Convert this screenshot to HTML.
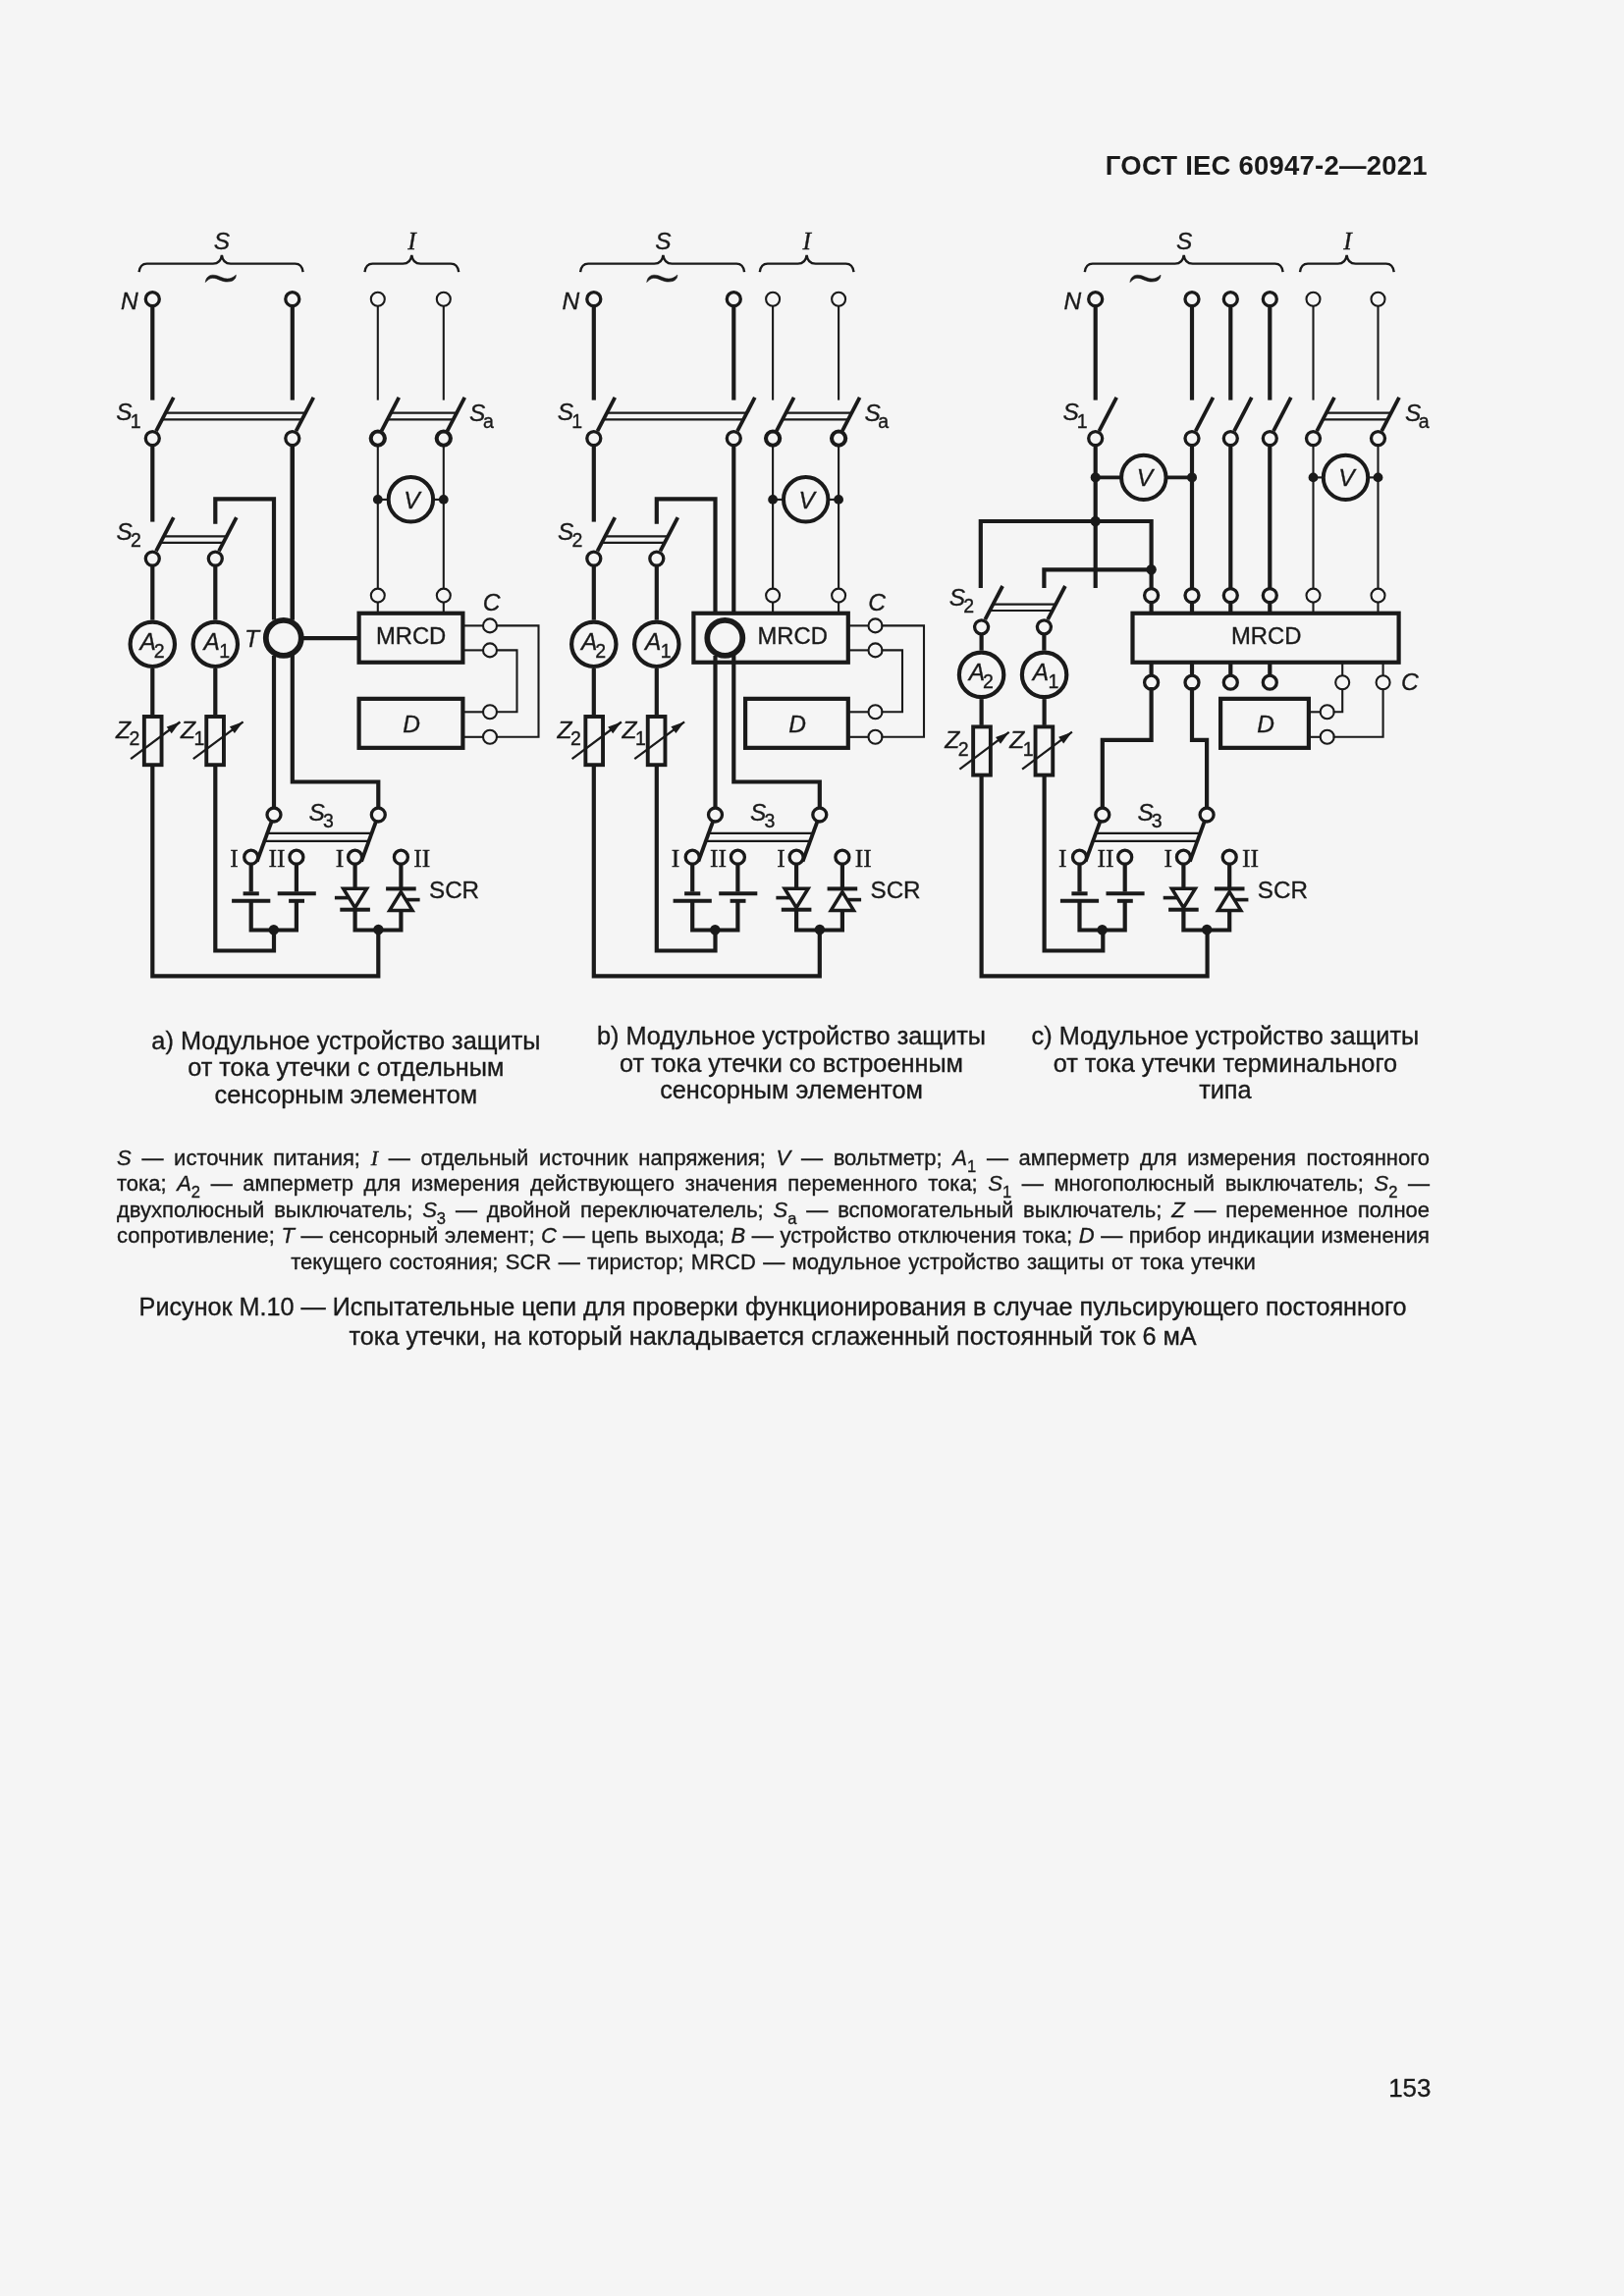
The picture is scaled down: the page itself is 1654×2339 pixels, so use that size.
<!DOCTYPE html>
<html><head><meta charset="utf-8"><style>
html,body{margin:0;padding:0;background:#f5f5f5;}
body{width:1654px;height:2339px;position:relative;overflow:hidden;font-family:"Liberation Sans",sans-serif;color:#1a1a1a;}
svg{position:absolute;left:0;top:0;will-change:transform;}
.t{position:absolute;white-space:nowrap;line-height:1;}
.lg{-webkit-text-stroke:0.35px #1a1a1a;will-change:transform;position:absolute;left:118.5px;width:1337px;font-size:22.0px;line-height:26.6px;text-align:justify;text-align-last:justify;white-space:normal;}
.lg i{font-style:italic;}
.lg i.sr{font-family:"Liberation Serif",serif;}
.lg sub{font-size:16.5px;vertical-align:-6.5px;line-height:0;}
</style></head><body>
<svg width="1654" height="2339" viewBox="0 0 1654 2339" stroke="#1a1a1a" fill="none">
<text x="1453.8" y="177.6" font-family="Liberation Sans" font-weight="bold" font-size="27.5" letter-spacing="0.22" text-anchor="end" fill="#1a1a1a" stroke="none">ГОСТ IEC 60947-2—2021</text>
<path d="M141.6,277.1 Q142.6,268.6 149.6,268.6 L216.9,268.6 Q224.9,268.6 225.9,259.9 Q226.9,268.6 234.9,268.6 L300.6,268.6 Q307.6,268.6 308.6,277.1" stroke-width="2.4" fill="none" />
<path d="M371.5,277.1 Q372.5,268.6 379.5,268.6 L410.3,268.6 Q418.3,268.6 419.3,259.9 Q420.3,268.6 428.3,268.6 L459.2,268.6 Q466.2,268.6 467.2,277.1" stroke-width="2.4" fill="none" />
<text x="226" y="254.4" font-family="Liberation Sans" font-size="24.5" text-anchor="middle" font-style="italic" fill="#1a1a1a" stroke="#1a1a1a" stroke-width="0.35">S</text>
<text x="419.5" y="253.6" font-family="Liberation Serif" font-size="25.5" text-anchor="middle" font-style="italic" fill="#1a1a1a" stroke="#1a1a1a" stroke-width="0.35">I</text>
<path transform="translate(0.1,0)" d="M209.2,287.5 C209.6,283 212.5,280.3 216.5,280.2 C220,280.1 223,281.5 226,282.8 C229.5,284.2 233,284.5 236,283 C238,282 239.5,280.8 240.2,280.0 C240.2,282.5 239.5,284 237.5,285.5 C235.5,286.8 232.5,287.1 229.5,286.9 C226.5,286.6 223.5,285.1 220.5,283.9 C217.5,282.9 214.5,283.1 212.5,284.6 C211,285.6 210,286.5 209.2,287.5 Z" fill="#1a1a1a" stroke="#1a1a1a" stroke-width="0.6"/>
<text x="123" y="314.7" font-family="Liberation Sans" font-size="24.5" text-anchor="start" font-style="italic" fill="#1a1a1a" stroke="#1a1a1a" stroke-width="0.35">N</text>
<circle cx="155.3" cy="304.7" r="7" stroke-width="3.3" fill="#f5f5f5"/>
<circle cx="297.8" cy="304.7" r="7" stroke-width="3.3" fill="#f5f5f5"/>
<circle cx="384.8" cy="304.7" r="7" stroke-width="2.1" fill="#f5f5f5"/>
<circle cx="451.8" cy="304.7" r="7" stroke-width="2.1" fill="#f5f5f5"/>
<line x1="155.3" y1="311.5" x2="155.3" y2="407.6" stroke-width="4.2" stroke-linecap="butt"/>
<line x1="297.8" y1="311.5" x2="297.8" y2="407.6" stroke-width="4.2" stroke-linecap="butt"/>
<line x1="384.8" y1="311.7" x2="384.8" y2="407.6" stroke-width="2.1" stroke-linecap="butt"/>
<line x1="451.8" y1="311.7" x2="451.8" y2="407.6" stroke-width="2.1" stroke-linecap="butt"/>
<line x1="159" y1="439.2" x2="176.8" y2="404.9" stroke-width="3.8" stroke-linecap="butt"/>
<line x1="301.5" y1="439.2" x2="319.3" y2="404.9" stroke-width="3.8" stroke-linecap="butt"/>
<line x1="168.65" y1="420.6" x2="311.15" y2="420.6" stroke-width="2.2" stroke-linecap="butt"/>
<line x1="165.2" y1="427.3" x2="307.7" y2="427.3" stroke-width="2.2" stroke-linecap="butt"/>
<text x="118.2" y="427.9" font-family="Liberation Sans" font-size="24.5" fill="#1a1a1a" stroke="#1a1a1a" stroke-width="0.35"><tspan font-style="italic">S</tspan><tspan font-size="19.5" dx="-1.9" dy="7.7">1</tspan></text>
<circle cx="155.3" cy="446.6" r="7" stroke-width="3.3" fill="#f5f5f5"/>
<circle cx="297.8" cy="446.6" r="7" stroke-width="3.3" fill="#f5f5f5"/>
<line x1="388.5" y1="439.2" x2="406.3" y2="404.9" stroke-width="3.8" stroke-linecap="butt"/>
<line x1="455.5" y1="439.2" x2="473.3" y2="404.9" stroke-width="3.8" stroke-linecap="butt"/>
<line x1="398.15" y1="420.6" x2="465.15" y2="420.6" stroke-width="2.2" stroke-linecap="butt"/>
<line x1="394.7" y1="427.3" x2="461.7" y2="427.3" stroke-width="2.2" stroke-linecap="butt"/>
<text x="478.1" y="428.6" font-family="Liberation Sans" font-size="24.5" fill="#1a1a1a" stroke="#1a1a1a" stroke-width="0.35"><tspan font-style="italic">S</tspan><tspan font-size="19.5" dx="-2.5" dy="7.8">a</tspan></text>
<circle cx="384.8" cy="446.6" r="7.1" stroke-width="4.1" fill="#f5f5f5"/>
<circle cx="451.8" cy="446.6" r="7.1" stroke-width="4.1" fill="#f5f5f5"/>
<line x1="384.8" y1="453.5" x2="384.8" y2="599.6" stroke-width="2.1" stroke-linecap="butt"/>
<line x1="451.8" y1="453.5" x2="451.8" y2="599.6" stroke-width="2.1" stroke-linecap="butt"/>
<circle cx="418.4" cy="508.8" r="22.7" stroke-width="4" fill="none"/>
<line x1="384.8" y1="508.9" x2="396.8" y2="508.9" stroke-width="2.1" stroke-linecap="butt"/>
<line x1="439.8" y1="508.9" x2="451.8" y2="508.9" stroke-width="2.1" stroke-linecap="butt"/>
<circle cx="384.8" cy="508.9" r="4.9" fill="#1a1a1a" stroke="none"/>
<circle cx="451.8" cy="508.9" r="4.9" fill="#1a1a1a" stroke="none"/>
<text x="419.4" y="517.5" font-family="Liberation Sans" font-size="24.5" text-anchor="middle" font-style="italic" fill="#1a1a1a" stroke="#1a1a1a" stroke-width="0.35">V</text>
<circle cx="384.8" cy="606.6" r="7" stroke-width="2.1" fill="#f5f5f5"/>
<circle cx="451.8" cy="606.6" r="7" stroke-width="2.1" fill="#f5f5f5"/>
<line x1="384.8" y1="613.6" x2="384.8" y2="624" stroke-width="2.1" stroke-linecap="butt"/>
<line x1="451.8" y1="613.6" x2="451.8" y2="624" stroke-width="2.1" stroke-linecap="butt"/>
<line x1="155.3" y1="453.6" x2="155.3" y2="531.6" stroke-width="4.2" stroke-linecap="butt"/>
<line x1="159" y1="561.4" x2="176.8" y2="527.2" stroke-width="3.8" stroke-linecap="butt"/>
<line x1="223" y1="561.4" x2="240.8" y2="527.2" stroke-width="3.8" stroke-linecap="butt"/>
<line x1="166.8" y1="546.4" x2="230.8" y2="546.4" stroke-width="2.2" stroke-linecap="butt"/>
<line x1="163.5" y1="552.8" x2="227.5" y2="552.8" stroke-width="2.2" stroke-linecap="butt"/>
<text x="118.6" y="549.7" font-family="Liberation Sans" font-size="24.5" fill="#1a1a1a" stroke="#1a1a1a" stroke-width="0.35"><tspan font-style="italic">S</tspan><tspan font-size="19.5" dx="-1.9" dy="7.2">2</tspan></text>
<circle cx="155.3" cy="569.1" r="7" stroke-width="3.3" fill="#f5f5f5"/>
<circle cx="219.3" cy="569.1" r="7" stroke-width="3.3" fill="#f5f5f5"/>
<line x1="155.3" y1="576" x2="155.3" y2="631.6" stroke-width="4.2" stroke-linecap="butt"/>
<line x1="219.3" y1="576" x2="219.3" y2="631.6" stroke-width="4.2" stroke-linecap="butt"/>
<polyline points="219.3,531.6 219.3,508.3 279,508.3 279,629.4" stroke-width="4.2" fill="none" stroke-linejoin="miter" stroke-linecap="square"/>
<line x1="297.8" y1="453.6" x2="297.8" y2="631.5" stroke-width="4.2" stroke-linecap="butt"/>
<rect x="365.6" y="624.75" width="105.8" height="50" stroke-width="4.2" fill="none"/>
<text x="418.6" y="656.4" font-family="Liberation Sans" font-size="23.8" text-anchor="middle" fill="#1a1a1a" stroke="#1a1a1a" stroke-width="0.35">MRCD</text>
<circle cx="288.8" cy="649.9" r="18" stroke-width="5.8" fill="#f5f5f5"/>
<line x1="306.8" y1="650.1" x2="366" y2="650.1" stroke-width="4.2" stroke-linecap="butt"/>
<text x="249" y="658.7" font-family="Liberation Sans" font-size="24.5" text-anchor="start" font-style="italic" fill="#1a1a1a" stroke="#1a1a1a" stroke-width="0.35">T</text>
<line x1="279" y1="668" x2="279" y2="822.5" stroke-width="4.2" stroke-linecap="butt"/>
<polyline points="297.8,668 297.8,796.5 385.3,796.5 385.3,822.5" stroke-width="4.2" fill="none" stroke-linejoin="miter" stroke-linecap="square"/>
<line x1="297.8" y1="453.6" x2="297.8" y2="631.5" stroke-width="4.2" stroke-linecap="butt"/>
<rect x="365.6" y="711.85" width="105.8" height="50" stroke-width="4.2" fill="none"/>
<text x="419.1" y="745.6" font-family="Liberation Sans" font-size="24.5" text-anchor="middle" font-style="italic" fill="#1a1a1a" stroke="#1a1a1a" stroke-width="0.35">D</text>
<circle cx="499" cy="637.4" r="7" stroke-width="2.1" fill="#f5f5f5"/>
<line x1="472.5" y1="637.4" x2="492" y2="637.4" stroke-width="2.1" stroke-linecap="butt"/>
<circle cx="499" cy="662.4" r="7" stroke-width="2.1" fill="#f5f5f5"/>
<line x1="472.5" y1="662.4" x2="492" y2="662.4" stroke-width="2.1" stroke-linecap="butt"/>
<circle cx="499" cy="725.3" r="7" stroke-width="2.1" fill="#f5f5f5"/>
<line x1="472.5" y1="725.3" x2="492" y2="725.3" stroke-width="2.1" stroke-linecap="butt"/>
<circle cx="499" cy="750.8" r="7" stroke-width="2.1" fill="#f5f5f5"/>
<line x1="472.5" y1="750.8" x2="492" y2="750.8" stroke-width="2.1" stroke-linecap="butt"/>
<text x="491.8" y="622.2" font-family="Liberation Sans" font-size="24.5" text-anchor="start" font-style="italic" fill="#1a1a1a" stroke="#1a1a1a" stroke-width="0.35">C</text>
<polyline points="506,637.4 548.5,637.4 548.5,750.8 506,750.8" stroke-width="2.1" fill="none" stroke-linejoin="miter" stroke-linecap="square"/>
<polyline points="506,662.4 526.5,662.4 526.5,725.3 506,725.3" stroke-width="2.1" fill="none" stroke-linejoin="miter" stroke-linecap="square"/>
<circle cx="155.3" cy="656.3" r="22.7" stroke-width="4.2" fill="none"/>
<circle cx="219.3" cy="656.3" r="22.7" stroke-width="4.2" fill="none"/>
<text x="142.4" y="662.2" font-family="Liberation Sans" font-size="24.5" fill="#1a1a1a" stroke="#1a1a1a" stroke-width="0.35"><tspan font-style="italic">A</tspan><tspan font-size="19.5" dx="-2" dy="7.6">2</tspan></text>
<text x="207.4" y="662.2" font-family="Liberation Sans" font-size="24.5" fill="#1a1a1a" stroke="#1a1a1a" stroke-width="0.35"><tspan font-style="italic">A</tspan><tspan font-size="19.5" dx="-0.5" dy="7.6">1</tspan></text>
<rect x="146.85" y="730" width="17.7" height="49.2" stroke-width="3.9" fill="none"/>
<rect x="210.25" y="730" width="17.7" height="49.2" stroke-width="3.9" fill="none"/>
<line x1="133.1" y1="773.2" x2="183.4" y2="735.5" stroke-width="2.3" stroke-linecap="butt"/>
<path d="M183.4,735.5 L174.72,747.26 L169.68,740.54 Z" fill="#1a1a1a" stroke="none"/>
<line x1="196.8" y1="773.2" x2="247.6" y2="735.3" stroke-width="2.3" stroke-linecap="butt"/>
<path d="M247.6,735.3 L238.89,747.04 L233.87,740.31 Z" fill="#1a1a1a" stroke="none"/>
<text x="118" y="751.9" font-family="Liberation Sans" font-size="24.5" fill="#1a1a1a" stroke="#1a1a1a" stroke-width="0.35"><tspan font-style="italic">Z</tspan><tspan font-size="19.5" dx="-1.5" dy="7.4">2</tspan></text>
<text x="184" y="751.9" font-family="Liberation Sans" font-size="24.5" fill="#1a1a1a" stroke="#1a1a1a" stroke-width="0.35"><tspan font-style="italic">Z</tspan><tspan font-size="19.5" dx="-1.5" dy="7.4">1</tspan></text>
<line x1="155.3" y1="681" x2="155.3" y2="728.5" stroke-width="4.2" stroke-linecap="butt"/>
<line x1="219.3" y1="681" x2="219.3" y2="728.5" stroke-width="4.2" stroke-linecap="butt"/>
<polyline points="155.3,780.7 155.3,994.4 385.3,994.4 385.3,947" stroke-width="4.2" fill="none" stroke-linejoin="miter" stroke-linecap="square"/>
<polyline points="219.3,780.7 219.3,968.5 279,968.5 279,947.3" stroke-width="4.2" fill="none" stroke-linejoin="miter" stroke-linecap="square"/>
<circle cx="279" cy="830" r="7" stroke-width="3.3" fill="#f5f5f5"/>
<circle cx="385.3" cy="830" r="7" stroke-width="3.3" fill="#f5f5f5"/>
<line x1="276.4" y1="837.5" x2="261.8" y2="877.5" stroke-width="3.8" stroke-linecap="butt"/>
<line x1="382.7" y1="837.5" x2="368.1" y2="877.5" stroke-width="3.8" stroke-linecap="butt"/>
<line x1="272.3" y1="848.8" x2="378.6" y2="848.8" stroke-width="2.2" stroke-linecap="butt"/>
<line x1="269.3" y1="856.9" x2="375.6" y2="856.9" stroke-width="2.2" stroke-linecap="butt"/>
<text x="314.6" y="835.9" font-family="Liberation Sans" font-size="24.5" fill="#1a1a1a" stroke="#1a1a1a" stroke-width="0.35"><tspan font-style="italic">S</tspan><tspan font-size="19.5" dx="-1.9" dy="7.5">3</tspan></text>
<circle cx="255.7" cy="873.2" r="7" stroke-width="3.3" fill="#f5f5f5"/>
<circle cx="301.9" cy="873.2" r="7" stroke-width="3.3" fill="#f5f5f5"/>
<circle cx="361.6" cy="873.2" r="7" stroke-width="3.3" fill="#f5f5f5"/>
<circle cx="408.4" cy="873.2" r="7" stroke-width="3.3" fill="#f5f5f5"/>
<text x="234.3" y="882.6" font-family="Liberation Serif" font-size="25.5" text-anchor="start" fill="#1a1a1a" stroke="#1a1a1a" stroke-width="0.35">I</text>
<text x="273.6" y="882.6" font-family="Liberation Serif" font-size="25.5" text-anchor="start" fill="#1a1a1a" stroke="#1a1a1a" stroke-width="0.35">II</text>
<text x="341.8" y="882.6" font-family="Liberation Serif" font-size="25.5" text-anchor="start" fill="#1a1a1a" stroke="#1a1a1a" stroke-width="0.35">I</text>
<text x="421.2" y="882.6" font-family="Liberation Serif" font-size="25.5" text-anchor="start" fill="#1a1a1a" stroke="#1a1a1a" stroke-width="0.35">II</text>
<line x1="255.7" y1="880.5" x2="255.7" y2="908.5" stroke-width="4.2" stroke-linecap="butt"/>
<line x1="247.6" y1="910.3" x2="263.8" y2="910.3" stroke-width="4" stroke-linecap="butt"/>
<line x1="236.1" y1="917.8" x2="275.3" y2="917.8" stroke-width="4" stroke-linecap="butt"/>
<line x1="301.9" y1="880.5" x2="301.9" y2="908.5" stroke-width="4.2" stroke-linecap="butt"/>
<line x1="282.7" y1="910.3" x2="321.8" y2="910.3" stroke-width="4" stroke-linecap="butt"/>
<line x1="294.1" y1="917.8" x2="310" y2="917.8" stroke-width="4" stroke-linecap="butt"/>
<polyline points="255.7,919.5 255.7,947.5 301.9,947.5 301.9,919.5" stroke-width="4.2" fill="none" stroke-linejoin="miter" stroke-linecap="square"/>
<circle cx="278.8" cy="947.3" r="5.2" fill="#1a1a1a" stroke="none"/>
<line x1="361.6" y1="880.5" x2="361.6" y2="905.2" stroke-width="4.2" stroke-linecap="butt"/>
<path d="M349.6,905.2 L373.6,905.2 L361.6,924.6 Z" stroke-width="3.5" fill="none" stroke-linejoin="miter"/>
<line x1="346.3" y1="926.7" x2="376.9" y2="926.7" stroke-width="4" stroke-linecap="butt"/>
<line x1="340.9" y1="914.6" x2="354.7" y2="914.6" stroke-width="3.6" stroke-linecap="butt"/>
<line x1="408.4" y1="880.5" x2="408.4" y2="905.4" stroke-width="4.2" stroke-linecap="butt"/>
<line x1="393.1" y1="905.4" x2="423.7" y2="905.4" stroke-width="4" stroke-linecap="butt"/>
<path d="M408.4,908.6 L420,927.4 L396.8,927.4 Z" stroke-width="3.5" fill="none" stroke-linejoin="miter"/>
<line x1="413.8" y1="916.6" x2="427.6" y2="916.6" stroke-width="3.6" stroke-linecap="butt"/>
<polyline points="361.6,928 361.6,947.5 408.4,947.5 408.4,929" stroke-width="4.2" fill="none" stroke-linejoin="miter" stroke-linecap="square"/>
<circle cx="385.4" cy="947" r="5.2" fill="#1a1a1a" stroke="none"/>
<text x="437" y="915.4" font-family="Liberation Sans" font-size="24.2" text-anchor="start" fill="#1a1a1a" stroke="#1a1a1a" stroke-width="0.35">SCR</text>
<path d="M591.1,277.1 Q592.1,268.6 599.1,268.6 L666.4,268.6 Q674.4,268.6 675.4,259.9 Q676.4,268.6 684.4,268.6 L750.1,268.6 Q757.1,268.6 758.1,277.1" stroke-width="2.4" fill="none" />
<path d="M773.8,277.1 Q774.8,268.6 781.8,268.6 L812.6,268.6 Q820.6,268.6 821.6,259.9 Q822.6,268.6 830.6,268.6 L861.5,268.6 Q868.5,268.6 869.5,277.1" stroke-width="2.4" fill="none" />
<text x="675.5" y="254.4" font-family="Liberation Sans" font-size="24.5" text-anchor="middle" font-style="italic" fill="#1a1a1a" stroke="#1a1a1a" stroke-width="0.35">S</text>
<text x="821.8" y="253.6" font-family="Liberation Serif" font-size="25.5" text-anchor="middle" font-style="italic" fill="#1a1a1a" stroke="#1a1a1a" stroke-width="0.35">I</text>
<path transform="translate(449.6,0)" d="M209.2,287.5 C209.6,283 212.5,280.3 216.5,280.2 C220,280.1 223,281.5 226,282.8 C229.5,284.2 233,284.5 236,283 C238,282 239.5,280.8 240.2,280.0 C240.2,282.5 239.5,284 237.5,285.5 C235.5,286.8 232.5,287.1 229.5,286.9 C226.5,286.6 223.5,285.1 220.5,283.9 C217.5,282.9 214.5,283.1 212.5,284.6 C211,285.6 210,286.5 209.2,287.5 Z" fill="#1a1a1a" stroke="#1a1a1a" stroke-width="0.6"/>
<text x="572.5" y="314.7" font-family="Liberation Sans" font-size="24.5" text-anchor="start" font-style="italic" fill="#1a1a1a" stroke="#1a1a1a" stroke-width="0.35">N</text>
<circle cx="604.8" cy="304.7" r="7" stroke-width="3.3" fill="#f5f5f5"/>
<circle cx="747.3" cy="304.7" r="7" stroke-width="3.3" fill="#f5f5f5"/>
<circle cx="787.1" cy="304.7" r="7" stroke-width="2.1" fill="#f5f5f5"/>
<circle cx="854.1" cy="304.7" r="7" stroke-width="2.1" fill="#f5f5f5"/>
<line x1="604.8" y1="311.5" x2="604.8" y2="407.6" stroke-width="4.2" stroke-linecap="butt"/>
<line x1="747.3" y1="311.5" x2="747.3" y2="407.6" stroke-width="4.2" stroke-linecap="butt"/>
<line x1="787.1" y1="311.7" x2="787.1" y2="407.6" stroke-width="2.1" stroke-linecap="butt"/>
<line x1="854.1" y1="311.7" x2="854.1" y2="407.6" stroke-width="2.1" stroke-linecap="butt"/>
<line x1="608.5" y1="439.2" x2="626.3" y2="404.9" stroke-width="3.8" stroke-linecap="butt"/>
<line x1="751" y1="439.2" x2="768.8" y2="404.9" stroke-width="3.8" stroke-linecap="butt"/>
<line x1="618.15" y1="420.6" x2="760.65" y2="420.6" stroke-width="2.2" stroke-linecap="butt"/>
<line x1="614.7" y1="427.3" x2="757.2" y2="427.3" stroke-width="2.2" stroke-linecap="butt"/>
<text x="567.7" y="427.9" font-family="Liberation Sans" font-size="24.5" fill="#1a1a1a" stroke="#1a1a1a" stroke-width="0.35"><tspan font-style="italic">S</tspan><tspan font-size="19.5" dx="-1.9" dy="7.7">1</tspan></text>
<circle cx="604.8" cy="446.6" r="7" stroke-width="3.3" fill="#f5f5f5"/>
<circle cx="747.3" cy="446.6" r="7" stroke-width="3.3" fill="#f5f5f5"/>
<line x1="790.8" y1="439.2" x2="808.6" y2="404.9" stroke-width="3.8" stroke-linecap="butt"/>
<line x1="857.8" y1="439.2" x2="875.6" y2="404.9" stroke-width="3.8" stroke-linecap="butt"/>
<line x1="800.45" y1="420.6" x2="867.45" y2="420.6" stroke-width="2.2" stroke-linecap="butt"/>
<line x1="797" y1="427.3" x2="864" y2="427.3" stroke-width="2.2" stroke-linecap="butt"/>
<text x="880.4" y="428.6" font-family="Liberation Sans" font-size="24.5" fill="#1a1a1a" stroke="#1a1a1a" stroke-width="0.35"><tspan font-style="italic">S</tspan><tspan font-size="19.5" dx="-2.5" dy="7.8">a</tspan></text>
<circle cx="787.1" cy="446.6" r="7.1" stroke-width="4.1" fill="#f5f5f5"/>
<circle cx="854.1" cy="446.6" r="7.1" stroke-width="4.1" fill="#f5f5f5"/>
<line x1="787.1" y1="453.5" x2="787.1" y2="599.6" stroke-width="2.1" stroke-linecap="butt"/>
<line x1="854.1" y1="453.5" x2="854.1" y2="599.6" stroke-width="2.1" stroke-linecap="butt"/>
<circle cx="820.7" cy="508.8" r="22.7" stroke-width="4" fill="none"/>
<line x1="787.1" y1="508.9" x2="799.1" y2="508.9" stroke-width="2.1" stroke-linecap="butt"/>
<line x1="842.1" y1="508.9" x2="854.1" y2="508.9" stroke-width="2.1" stroke-linecap="butt"/>
<circle cx="787.1" cy="508.9" r="4.9" fill="#1a1a1a" stroke="none"/>
<circle cx="854.1" cy="508.9" r="4.9" fill="#1a1a1a" stroke="none"/>
<text x="821.7" y="517.5" font-family="Liberation Sans" font-size="24.5" text-anchor="middle" font-style="italic" fill="#1a1a1a" stroke="#1a1a1a" stroke-width="0.35">V</text>
<circle cx="787.1" cy="606.6" r="7" stroke-width="2.1" fill="#f5f5f5"/>
<circle cx="854.1" cy="606.6" r="7" stroke-width="2.1" fill="#f5f5f5"/>
<line x1="787.1" y1="613.6" x2="787.1" y2="624" stroke-width="2.1" stroke-linecap="butt"/>
<line x1="854.1" y1="613.6" x2="854.1" y2="624" stroke-width="2.1" stroke-linecap="butt"/>
<line x1="604.8" y1="453.6" x2="604.8" y2="531.6" stroke-width="4.2" stroke-linecap="butt"/>
<line x1="608.5" y1="561.4" x2="626.3" y2="527.2" stroke-width="3.8" stroke-linecap="butt"/>
<line x1="672.5" y1="561.4" x2="690.3" y2="527.2" stroke-width="3.8" stroke-linecap="butt"/>
<line x1="616.3" y1="546.4" x2="680.3" y2="546.4" stroke-width="2.2" stroke-linecap="butt"/>
<line x1="613" y1="552.8" x2="677" y2="552.8" stroke-width="2.2" stroke-linecap="butt"/>
<text x="568.1" y="549.7" font-family="Liberation Sans" font-size="24.5" fill="#1a1a1a" stroke="#1a1a1a" stroke-width="0.35"><tspan font-style="italic">S</tspan><tspan font-size="19.5" dx="-1.9" dy="7.2">2</tspan></text>
<circle cx="604.8" cy="569.1" r="7" stroke-width="3.3" fill="#f5f5f5"/>
<circle cx="668.8" cy="569.1" r="7" stroke-width="3.3" fill="#f5f5f5"/>
<line x1="604.8" y1="576" x2="604.8" y2="631.6" stroke-width="4.2" stroke-linecap="butt"/>
<line x1="668.8" y1="576" x2="668.8" y2="631.6" stroke-width="4.2" stroke-linecap="butt"/>
<polyline points="668.8,531.6 668.8,508.3 728.5,508.3 728.5,622.65" stroke-width="4.2" fill="none" stroke-linejoin="miter" stroke-linecap="square"/>
<line x1="747.3" y1="453.6" x2="747.3" y2="624.75" stroke-width="4.2" stroke-linecap="butt"/>
<rect x="706.4" y="624.75" width="157.4" height="50" stroke-width="4.2" fill="none"/>
<text x="807.2" y="656.4" font-family="Liberation Sans" font-size="23.8" text-anchor="middle" fill="#1a1a1a" stroke="#1a1a1a" stroke-width="0.35">MRCD</text>
<circle cx="738.3" cy="649.9" r="18" stroke-width="5.8" fill="#f5f5f5"/>
<line x1="728.5" y1="668" x2="728.5" y2="822.5" stroke-width="4.2" stroke-linecap="butt"/>
<polyline points="747.3,668 747.3,796.5 834.8,796.5 834.8,822.5" stroke-width="4.2" fill="none" stroke-linejoin="miter" stroke-linecap="square"/>
<rect x="759.1" y="711.85" width="104.7" height="50" stroke-width="4.2" fill="none"/>
<text x="812.05" y="745.6" font-family="Liberation Sans" font-size="24.5" text-anchor="middle" font-style="italic" fill="#1a1a1a" stroke="#1a1a1a" stroke-width="0.35">D</text>
<circle cx="891.5" cy="637.4" r="7" stroke-width="2.1" fill="#f5f5f5"/>
<line x1="864.9" y1="637.4" x2="884.5" y2="637.4" stroke-width="2.1" stroke-linecap="butt"/>
<circle cx="891.5" cy="662.4" r="7" stroke-width="2.1" fill="#f5f5f5"/>
<line x1="864.9" y1="662.4" x2="884.5" y2="662.4" stroke-width="2.1" stroke-linecap="butt"/>
<circle cx="891.5" cy="725.3" r="7" stroke-width="2.1" fill="#f5f5f5"/>
<line x1="864.9" y1="725.3" x2="884.5" y2="725.3" stroke-width="2.1" stroke-linecap="butt"/>
<circle cx="891.5" cy="750.8" r="7" stroke-width="2.1" fill="#f5f5f5"/>
<line x1="864.9" y1="750.8" x2="884.5" y2="750.8" stroke-width="2.1" stroke-linecap="butt"/>
<text x="884.3" y="622.2" font-family="Liberation Sans" font-size="24.5" text-anchor="start" font-style="italic" fill="#1a1a1a" stroke="#1a1a1a" stroke-width="0.35">C</text>
<polyline points="898.5,637.4 941,637.4 941,750.8 898.5,750.8" stroke-width="2.1" fill="none" stroke-linejoin="miter" stroke-linecap="square"/>
<polyline points="898.5,662.4 919,662.4 919,725.3 898.5,725.3" stroke-width="2.1" fill="none" stroke-linejoin="miter" stroke-linecap="square"/>
<circle cx="604.8" cy="656.3" r="22.7" stroke-width="4.2" fill="none"/>
<circle cx="668.8" cy="656.3" r="22.7" stroke-width="4.2" fill="none"/>
<text x="591.9" y="662.2" font-family="Liberation Sans" font-size="24.5" fill="#1a1a1a" stroke="#1a1a1a" stroke-width="0.35"><tspan font-style="italic">A</tspan><tspan font-size="19.5" dx="-2" dy="7.6">2</tspan></text>
<text x="656.9" y="662.2" font-family="Liberation Sans" font-size="24.5" fill="#1a1a1a" stroke="#1a1a1a" stroke-width="0.35"><tspan font-style="italic">A</tspan><tspan font-size="19.5" dx="-0.5" dy="7.6">1</tspan></text>
<rect x="596.35" y="730" width="17.7" height="49.2" stroke-width="3.9" fill="none"/>
<rect x="659.75" y="730" width="17.7" height="49.2" stroke-width="3.9" fill="none"/>
<line x1="582.6" y1="773.2" x2="632.9" y2="735.5" stroke-width="2.3" stroke-linecap="butt"/>
<path d="M632.9,735.5 L624.22,747.26 L619.18,740.54 Z" fill="#1a1a1a" stroke="none"/>
<line x1="646.3" y1="773.2" x2="697.1" y2="735.3" stroke-width="2.3" stroke-linecap="butt"/>
<path d="M697.1,735.3 L688.39,747.04 L683.37,740.31 Z" fill="#1a1a1a" stroke="none"/>
<text x="567.5" y="751.9" font-family="Liberation Sans" font-size="24.5" fill="#1a1a1a" stroke="#1a1a1a" stroke-width="0.35"><tspan font-style="italic">Z</tspan><tspan font-size="19.5" dx="-1.5" dy="7.4">2</tspan></text>
<text x="633.5" y="751.9" font-family="Liberation Sans" font-size="24.5" fill="#1a1a1a" stroke="#1a1a1a" stroke-width="0.35"><tspan font-style="italic">Z</tspan><tspan font-size="19.5" dx="-1.5" dy="7.4">1</tspan></text>
<line x1="604.8" y1="681" x2="604.8" y2="728.5" stroke-width="4.2" stroke-linecap="butt"/>
<line x1="668.8" y1="681" x2="668.8" y2="728.5" stroke-width="4.2" stroke-linecap="butt"/>
<polyline points="604.8,780.7 604.8,994.4 834.8,994.4 834.8,947" stroke-width="4.2" fill="none" stroke-linejoin="miter" stroke-linecap="square"/>
<polyline points="668.8,780.7 668.8,968.5 728.5,968.5 728.5,947.3" stroke-width="4.2" fill="none" stroke-linejoin="miter" stroke-linecap="square"/>
<circle cx="728.5" cy="830" r="7" stroke-width="3.3" fill="#f5f5f5"/>
<circle cx="834.8" cy="830" r="7" stroke-width="3.3" fill="#f5f5f5"/>
<line x1="725.9" y1="837.5" x2="711.3" y2="877.5" stroke-width="3.8" stroke-linecap="butt"/>
<line x1="832.2" y1="837.5" x2="817.6" y2="877.5" stroke-width="3.8" stroke-linecap="butt"/>
<line x1="721.8" y1="848.8" x2="828.1" y2="848.8" stroke-width="2.2" stroke-linecap="butt"/>
<line x1="718.8" y1="856.9" x2="825.1" y2="856.9" stroke-width="2.2" stroke-linecap="butt"/>
<text x="764.1" y="835.9" font-family="Liberation Sans" font-size="24.5" fill="#1a1a1a" stroke="#1a1a1a" stroke-width="0.35"><tspan font-style="italic">S</tspan><tspan font-size="19.5" dx="-1.9" dy="7.5">3</tspan></text>
<circle cx="705.2" cy="873.2" r="7" stroke-width="3.3" fill="#f5f5f5"/>
<circle cx="751.4" cy="873.2" r="7" stroke-width="3.3" fill="#f5f5f5"/>
<circle cx="811.1" cy="873.2" r="7" stroke-width="3.3" fill="#f5f5f5"/>
<circle cx="857.9" cy="873.2" r="7" stroke-width="3.3" fill="#f5f5f5"/>
<text x="683.8" y="882.6" font-family="Liberation Serif" font-size="25.5" text-anchor="start" fill="#1a1a1a" stroke="#1a1a1a" stroke-width="0.35">I</text>
<text x="723.1" y="882.6" font-family="Liberation Serif" font-size="25.5" text-anchor="start" fill="#1a1a1a" stroke="#1a1a1a" stroke-width="0.35">II</text>
<text x="791.3" y="882.6" font-family="Liberation Serif" font-size="25.5" text-anchor="start" fill="#1a1a1a" stroke="#1a1a1a" stroke-width="0.35">I</text>
<text x="870.7" y="882.6" font-family="Liberation Serif" font-size="25.5" text-anchor="start" fill="#1a1a1a" stroke="#1a1a1a" stroke-width="0.35">II</text>
<line x1="705.2" y1="880.5" x2="705.2" y2="908.5" stroke-width="4.2" stroke-linecap="butt"/>
<line x1="697.1" y1="910.3" x2="713.3" y2="910.3" stroke-width="4" stroke-linecap="butt"/>
<line x1="685.6" y1="917.8" x2="724.8" y2="917.8" stroke-width="4" stroke-linecap="butt"/>
<line x1="751.4" y1="880.5" x2="751.4" y2="908.5" stroke-width="4.2" stroke-linecap="butt"/>
<line x1="732.2" y1="910.3" x2="771.3" y2="910.3" stroke-width="4" stroke-linecap="butt"/>
<line x1="743.6" y1="917.8" x2="759.5" y2="917.8" stroke-width="4" stroke-linecap="butt"/>
<polyline points="705.2,919.5 705.2,947.5 751.4,947.5 751.4,919.5" stroke-width="4.2" fill="none" stroke-linejoin="miter" stroke-linecap="square"/>
<circle cx="728.3" cy="947.3" r="5.2" fill="#1a1a1a" stroke="none"/>
<line x1="811.1" y1="880.5" x2="811.1" y2="905.2" stroke-width="4.2" stroke-linecap="butt"/>
<path d="M799.1,905.2 L823.1,905.2 L811.1,924.6 Z" stroke-width="3.5" fill="none" stroke-linejoin="miter"/>
<line x1="795.8" y1="926.7" x2="826.4" y2="926.7" stroke-width="4" stroke-linecap="butt"/>
<line x1="790.4" y1="914.6" x2="804.2" y2="914.6" stroke-width="3.6" stroke-linecap="butt"/>
<line x1="857.9" y1="880.5" x2="857.9" y2="905.4" stroke-width="4.2" stroke-linecap="butt"/>
<line x1="842.6" y1="905.4" x2="873.2" y2="905.4" stroke-width="4" stroke-linecap="butt"/>
<path d="M857.9,908.6 L869.5,927.4 L846.3,927.4 Z" stroke-width="3.5" fill="none" stroke-linejoin="miter"/>
<line x1="863.3" y1="916.6" x2="877.1" y2="916.6" stroke-width="3.6" stroke-linecap="butt"/>
<polyline points="811.1,928 811.1,947.5 857.9,947.5 857.9,929" stroke-width="4.2" fill="none" stroke-linejoin="miter" stroke-linecap="square"/>
<circle cx="834.9" cy="947" r="5.2" fill="#1a1a1a" stroke="none"/>
<text x="886.5" y="915.4" font-family="Liberation Sans" font-size="24.2" text-anchor="start" fill="#1a1a1a" stroke="#1a1a1a" stroke-width="0.35">SCR</text>
<path d="M1104.8,277.1 Q1105.8,268.6 1112.8,268.6 L1196.7,268.6 Q1204.7,268.6 1205.7,259.9 Q1206.7,268.6 1214.7,268.6 L1298.6,268.6 Q1305.6,268.6 1306.6,277.1" stroke-width="2.4" fill="none" />
<path d="M1324,277.1 Q1325,268.6 1332,268.6 L1362.6,268.6 Q1370.6,268.6 1371.6,259.9 Q1372.6,268.6 1380.6,268.6 L1411.7,268.6 Q1418.7,268.6 1419.7,277.1" stroke-width="2.4" fill="none" />
<text x="1206.2" y="254.4" font-family="Liberation Sans" font-size="24.5" text-anchor="middle" font-style="italic" fill="#1a1a1a" stroke="#1a1a1a" stroke-width="0.35">S</text>
<text x="1372.4" y="253.6" font-family="Liberation Serif" font-size="25.5" text-anchor="middle" font-style="italic" fill="#1a1a1a" stroke="#1a1a1a" stroke-width="0.35">I</text>
<path transform="translate(941.8,0)" d="M209.2,287.5 C209.6,283 212.5,280.3 216.5,280.2 C220,280.1 223,281.5 226,282.8 C229.5,284.2 233,284.5 236,283 C238,282 239.5,280.8 240.2,280.0 C240.2,282.5 239.5,284 237.5,285.5 C235.5,286.8 232.5,287.1 229.5,286.9 C226.5,286.6 223.5,285.1 220.5,283.9 C217.5,282.9 214.5,283.1 212.5,284.6 C211,285.6 210,286.5 209.2,287.5 Z" fill="#1a1a1a" stroke="#1a1a1a" stroke-width="0.6"/>
<text x="1083.6" y="314.7" font-family="Liberation Sans" font-size="24.5" text-anchor="start" font-style="italic" fill="#1a1a1a" stroke="#1a1a1a" stroke-width="0.35">N</text>
<circle cx="1115.7" cy="304.7" r="7" stroke-width="3.3" fill="#f5f5f5"/>
<line x1="1115.7" y1="311.5" x2="1115.7" y2="407.6" stroke-width="4.2" stroke-linecap="butt"/>
<line x1="1119.4" y1="439.2" x2="1137.2" y2="404.9" stroke-width="3.8" stroke-linecap="butt"/>
<circle cx="1214" cy="304.7" r="7" stroke-width="3.3" fill="#f5f5f5"/>
<line x1="1214" y1="311.5" x2="1214" y2="407.6" stroke-width="4.2" stroke-linecap="butt"/>
<line x1="1217.7" y1="439.2" x2="1235.5" y2="404.9" stroke-width="3.8" stroke-linecap="butt"/>
<circle cx="1253.3" cy="304.7" r="7" stroke-width="3.3" fill="#f5f5f5"/>
<line x1="1253.3" y1="311.5" x2="1253.3" y2="407.6" stroke-width="4.2" stroke-linecap="butt"/>
<line x1="1257" y1="439.2" x2="1274.8" y2="404.9" stroke-width="3.8" stroke-linecap="butt"/>
<circle cx="1293.3" cy="304.7" r="7" stroke-width="3.3" fill="#f5f5f5"/>
<line x1="1293.3" y1="311.5" x2="1293.3" y2="407.6" stroke-width="4.2" stroke-linecap="butt"/>
<line x1="1297" y1="439.2" x2="1314.8" y2="404.9" stroke-width="3.8" stroke-linecap="butt"/>
<circle cx="1337.5" cy="304.7" r="7" stroke-width="2.1" fill="#f5f5f5"/>
<line x1="1337.5" y1="311.7" x2="1337.5" y2="407.6" stroke-width="2.1" stroke-linecap="butt"/>
<line x1="1341.2" y1="439.2" x2="1359" y2="404.9" stroke-width="3.8" stroke-linecap="butt"/>
<circle cx="1403.5" cy="304.7" r="7" stroke-width="2.1" fill="#f5f5f5"/>
<line x1="1403.5" y1="311.7" x2="1403.5" y2="407.6" stroke-width="2.1" stroke-linecap="butt"/>
<line x1="1407.2" y1="439.2" x2="1425" y2="404.9" stroke-width="3.8" stroke-linecap="butt"/>
<line x1="1350.85" y1="420.6" x2="1416.85" y2="420.6" stroke-width="2.2" stroke-linecap="butt"/>
<line x1="1347.4" y1="427.3" x2="1413.4" y2="427.3" stroke-width="2.2" stroke-linecap="butt"/>
<text x="1082.4" y="427.9" font-family="Liberation Sans" font-size="24.5" fill="#1a1a1a" stroke="#1a1a1a" stroke-width="0.35"><tspan font-style="italic">S</tspan><tspan font-size="19.5" dx="-1.9" dy="7.7">1</tspan></text>
<text x="1430.9" y="428.6" font-family="Liberation Sans" font-size="24.5" fill="#1a1a1a" stroke="#1a1a1a" stroke-width="0.35"><tspan font-style="italic">S</tspan><tspan font-size="19.5" dx="-2.5" dy="7.8">a</tspan></text>
<circle cx="1115.7" cy="446.6" r="7" stroke-width="3.3" fill="#f5f5f5"/>
<circle cx="1214" cy="446.6" r="7" stroke-width="3.3" fill="#f5f5f5"/>
<circle cx="1253.3" cy="446.6" r="7" stroke-width="3.3" fill="#f5f5f5"/>
<circle cx="1293.3" cy="446.6" r="7" stroke-width="3.3" fill="#f5f5f5"/>
<circle cx="1337.5" cy="446.6" r="7" stroke-width="3.3" fill="#f5f5f5"/>
<circle cx="1403.5" cy="446.6" r="7" stroke-width="3.3" fill="#f5f5f5"/>
<line x1="1214" y1="453.6" x2="1214" y2="599.6" stroke-width="4.2" stroke-linecap="butt"/>
<line x1="1253.3" y1="453.6" x2="1253.3" y2="599.6" stroke-width="4.2" stroke-linecap="butt"/>
<line x1="1293.3" y1="453.6" x2="1293.3" y2="599.6" stroke-width="4.2" stroke-linecap="butt"/>
<line x1="1337.5" y1="453.6" x2="1337.5" y2="599.6" stroke-width="2.1" stroke-linecap="butt"/>
<line x1="1403.5" y1="453.6" x2="1403.5" y2="599.6" stroke-width="2.1" stroke-linecap="butt"/>
<circle cx="1164.8" cy="486.4" r="22.7" stroke-width="4" fill="none"/>
<line x1="1115.7" y1="486.4" x2="1142.1" y2="486.4" stroke-width="3.78" stroke-linecap="butt"/>
<line x1="1187.5" y1="486.4" x2="1214" y2="486.4" stroke-width="3.78" stroke-linecap="butt"/>
<circle cx="1115.7" cy="486.4" r="5" fill="#1a1a1a" stroke="none"/>
<circle cx="1214" cy="486.4" r="5" fill="#1a1a1a" stroke="none"/>
<text x="1165.8" y="495.1" font-family="Liberation Sans" font-size="24.5" text-anchor="middle" font-style="italic" fill="#1a1a1a" stroke="#1a1a1a" stroke-width="0.35">V</text>
<circle cx="1370.5" cy="486.4" r="22.7" stroke-width="4" fill="none"/>
<line x1="1337.5" y1="486.4" x2="1347.8" y2="486.4" stroke-width="2.1" stroke-linecap="butt"/>
<line x1="1393.2" y1="486.4" x2="1403.5" y2="486.4" stroke-width="2.1" stroke-linecap="butt"/>
<circle cx="1337.5" cy="486.4" r="4.9" fill="#1a1a1a" stroke="none"/>
<circle cx="1403.5" cy="486.4" r="4.9" fill="#1a1a1a" stroke="none"/>
<text x="1371.5" y="495.1" font-family="Liberation Sans" font-size="24.5" text-anchor="middle" font-style="italic" fill="#1a1a1a" stroke="#1a1a1a" stroke-width="0.35">V</text>
<line x1="1115.7" y1="453.6" x2="1115.7" y2="599" stroke-width="4.2" stroke-linecap="butt"/>
<circle cx="1115.7" cy="531" r="5.2" fill="#1a1a1a" stroke="none"/>
<polyline points="998.8,597 998.8,531 1172.6,531 1172.6,599.6" stroke-width="4.2" fill="none" stroke-linejoin="miter" stroke-linecap="square"/>
<circle cx="1172.6" cy="580.3" r="5.2" fill="#1a1a1a" stroke="none"/>
<polyline points="1063.4,597 1063.4,580.3 1172.6,580.3" stroke-width="4.2" fill="none" stroke-linejoin="miter" stroke-linecap="square"/>
<line x1="1003.3" y1="631.2" x2="1021.1" y2="597" stroke-width="3.8" stroke-linecap="butt"/>
<line x1="1067.1" y1="631.2" x2="1084.9" y2="597" stroke-width="3.8" stroke-linecap="butt"/>
<line x1="1011.4" y1="615.7" x2="1075.2" y2="615.7" stroke-width="2.2" stroke-linecap="butt"/>
<line x1="1008.1" y1="622" x2="1071.9" y2="622" stroke-width="2.2" stroke-linecap="butt"/>
<text x="966.8" y="616.8" font-family="Liberation Sans" font-size="24.5" fill="#1a1a1a" stroke="#1a1a1a" stroke-width="0.35"><tspan font-style="italic">S</tspan><tspan font-size="19.5" dx="-1.9" dy="7.2">2</tspan></text>
<circle cx="999.6" cy="638.8" r="7" stroke-width="3.3" fill="#f5f5f5"/>
<circle cx="1063.4" cy="638.8" r="7" stroke-width="3.3" fill="#f5f5f5"/>
<line x1="999.6" y1="645.7" x2="999.6" y2="662.7" stroke-width="4.2" stroke-linecap="butt"/>
<line x1="1063.4" y1="645.7" x2="1063.4" y2="662.7" stroke-width="4.2" stroke-linecap="butt"/>
<rect x="1153.5" y="624.75" width="271.1" height="50" stroke-width="4.2" fill="none"/>
<text x="1289.7" y="656.4" font-family="Liberation Sans" font-size="23.8" text-anchor="middle" fill="#1a1a1a" stroke="#1a1a1a" stroke-width="0.35">MRCD</text>
<circle cx="1172.6" cy="606.6" r="7" stroke-width="3.3" fill="#f5f5f5"/>
<line x1="1172.6" y1="613.6" x2="1172.6" y2="624" stroke-width="4.2" stroke-linecap="butt"/>
<circle cx="1214" cy="606.6" r="7" stroke-width="3.3" fill="#f5f5f5"/>
<line x1="1214" y1="613.6" x2="1214" y2="624" stroke-width="4.2" stroke-linecap="butt"/>
<circle cx="1253.3" cy="606.6" r="7" stroke-width="3.3" fill="#f5f5f5"/>
<line x1="1253.3" y1="613.6" x2="1253.3" y2="624" stroke-width="4.2" stroke-linecap="butt"/>
<circle cx="1293.3" cy="606.6" r="7" stroke-width="3.3" fill="#f5f5f5"/>
<line x1="1293.3" y1="613.6" x2="1293.3" y2="624" stroke-width="4.2" stroke-linecap="butt"/>
<circle cx="1337.5" cy="606.6" r="7" stroke-width="2.1" fill="#f5f5f5"/>
<line x1="1337.5" y1="613.6" x2="1337.5" y2="624" stroke-width="2.1" stroke-linecap="butt"/>
<circle cx="1403.5" cy="606.6" r="7" stroke-width="2.1" fill="#f5f5f5"/>
<line x1="1403.5" y1="613.6" x2="1403.5" y2="624" stroke-width="2.1" stroke-linecap="butt"/>
<line x1="1172.6" y1="676" x2="1172.6" y2="688.2" stroke-width="4.2" stroke-linecap="butt"/>
<circle cx="1172.6" cy="695.2" r="7" stroke-width="3.3" fill="#f5f5f5"/>
<line x1="1214" y1="676" x2="1214" y2="688.2" stroke-width="4.2" stroke-linecap="butt"/>
<circle cx="1214" cy="695.2" r="7" stroke-width="3.3" fill="#f5f5f5"/>
<line x1="1253.3" y1="676" x2="1253.3" y2="688.2" stroke-width="4.2" stroke-linecap="butt"/>
<circle cx="1253.3" cy="695.2" r="7" stroke-width="3.3" fill="#f5f5f5"/>
<line x1="1293.3" y1="676" x2="1293.3" y2="688.2" stroke-width="4.2" stroke-linecap="butt"/>
<circle cx="1293.3" cy="695.2" r="7" stroke-width="3.3" fill="#f5f5f5"/>
<line x1="1367.2" y1="676" x2="1367.2" y2="688.2" stroke-width="2.1" stroke-linecap="butt"/>
<circle cx="1367.2" cy="695.2" r="7" stroke-width="2.1" fill="#f5f5f5"/>
<line x1="1408.6" y1="676" x2="1408.6" y2="688.2" stroke-width="2.1" stroke-linecap="butt"/>
<circle cx="1408.6" cy="695.2" r="7" stroke-width="2.1" fill="#f5f5f5"/>
<text x="1427" y="703.4" font-family="Liberation Sans" font-size="24.5" text-anchor="start" font-style="italic" fill="#1a1a1a" stroke="#1a1a1a" stroke-width="0.35">C</text>
<polyline points="1172.6,702.2 1172.6,753.9 1122.8,753.9 1122.8,822.5" stroke-width="4.2" fill="none" stroke-linejoin="miter" stroke-linecap="square"/>
<polyline points="1214,702.2 1214,753.9 1229.1,753.9 1229.1,822.5" stroke-width="4.2" fill="none" stroke-linejoin="miter" stroke-linecap="square"/>
<rect x="1243.1" y="711.85" width="89.8" height="50" stroke-width="4.2" fill="none"/>
<text x="1289" y="745.6" font-family="Liberation Sans" font-size="24.5" text-anchor="middle" font-style="italic" fill="#1a1a1a" stroke="#1a1a1a" stroke-width="0.35">D</text>
<circle cx="1351.7" cy="725.3" r="7" stroke-width="2.1" fill="#f5f5f5"/>
<line x1="1334" y1="725.3" x2="1344.7" y2="725.3" stroke-width="2.1" stroke-linecap="butt"/>
<circle cx="1351.7" cy="750.8" r="7" stroke-width="2.1" fill="#f5f5f5"/>
<line x1="1334" y1="750.8" x2="1344.7" y2="750.8" stroke-width="2.1" stroke-linecap="butt"/>
<polyline points="1358.7,725.3 1367.2,725.3 1367.2,702.2" stroke-width="2.1" fill="none" stroke-linejoin="miter" stroke-linecap="square"/>
<polyline points="1358.7,750.8 1408.6,750.8 1408.6,702.2" stroke-width="2.1" fill="none" stroke-linejoin="miter" stroke-linecap="square"/>
<circle cx="999.6" cy="687.4" r="22.7" stroke-width="4.2" fill="none"/>
<circle cx="1063.6" cy="687.4" r="22.7" stroke-width="4.2" fill="none"/>
<text x="986.7" y="693.3" font-family="Liberation Sans" font-size="24.5" fill="#1a1a1a" stroke="#1a1a1a" stroke-width="0.35"><tspan font-style="italic">A</tspan><tspan font-size="19.5" dx="-2" dy="7.6">2</tspan></text>
<text x="1051.7" y="693.3" font-family="Liberation Sans" font-size="24.5" fill="#1a1a1a" stroke="#1a1a1a" stroke-width="0.35"><tspan font-style="italic">A</tspan><tspan font-size="19.5" dx="-0.5" dy="7.6">1</tspan></text>
<rect x="991.15" y="740.4" width="17.7" height="49.2" stroke-width="3.9" fill="none"/>
<rect x="1054.55" y="740.4" width="17.7" height="49.2" stroke-width="3.9" fill="none"/>
<line x1="977.4" y1="783.6" x2="1027.7" y2="745.9" stroke-width="2.3" stroke-linecap="butt"/>
<path d="M1027.7,745.9 L1019.02,757.66 L1013.98,750.94 Z" fill="#1a1a1a" stroke="none"/>
<line x1="1041.1" y1="783.6" x2="1091.9" y2="745.7" stroke-width="2.3" stroke-linecap="butt"/>
<path d="M1091.9,745.7 L1083.19,757.44 L1078.17,750.71 Z" fill="#1a1a1a" stroke="none"/>
<text x="962.3" y="762.3" font-family="Liberation Sans" font-size="24.5" fill="#1a1a1a" stroke="#1a1a1a" stroke-width="0.35"><tspan font-style="italic">Z</tspan><tspan font-size="19.5" dx="-1.5" dy="7.4">2</tspan></text>
<text x="1028.3" y="762.3" font-family="Liberation Sans" font-size="24.5" fill="#1a1a1a" stroke="#1a1a1a" stroke-width="0.35"><tspan font-style="italic">Z</tspan><tspan font-size="19.5" dx="-1.5" dy="7.4">1</tspan></text>
<line x1="999.6" y1="712.1" x2="999.6" y2="738.9" stroke-width="4.2" stroke-linecap="butt"/>
<line x1="1063.6" y1="712.1" x2="1063.6" y2="738.9" stroke-width="4.2" stroke-linecap="butt"/>
<polyline points="999.6,791.1 999.6,994.4 1229.6,994.4 1229.6,947" stroke-width="4.2" fill="none" stroke-linejoin="miter" stroke-linecap="square"/>
<polyline points="1063.6,791.1 1063.6,968.5 1123.3,968.5 1123.3,947.3" stroke-width="4.2" fill="none" stroke-linejoin="miter" stroke-linecap="square"/>
<circle cx="1122.8" cy="830" r="7" stroke-width="3.3" fill="#f5f5f5"/>
<circle cx="1229.1" cy="830" r="7" stroke-width="3.3" fill="#f5f5f5"/>
<line x1="1120.2" y1="837.5" x2="1105.6" y2="877.5" stroke-width="3.8" stroke-linecap="butt"/>
<line x1="1226.5" y1="837.5" x2="1211.9" y2="877.5" stroke-width="3.8" stroke-linecap="butt"/>
<line x1="1116.1" y1="848.8" x2="1222.4" y2="848.8" stroke-width="2.2" stroke-linecap="butt"/>
<line x1="1113.1" y1="856.9" x2="1219.4" y2="856.9" stroke-width="2.2" stroke-linecap="butt"/>
<text x="1158.4" y="835.9" font-family="Liberation Sans" font-size="24.5" fill="#1a1a1a" stroke="#1a1a1a" stroke-width="0.35"><tspan font-style="italic">S</tspan><tspan font-size="19.5" dx="-1.9" dy="7.5">3</tspan></text>
<circle cx="1099.5" cy="873.2" r="7" stroke-width="3.3" fill="#f5f5f5"/>
<circle cx="1145.7" cy="873.2" r="7" stroke-width="3.3" fill="#f5f5f5"/>
<circle cx="1205.4" cy="873.2" r="7" stroke-width="3.3" fill="#f5f5f5"/>
<circle cx="1252.2" cy="873.2" r="7" stroke-width="3.3" fill="#f5f5f5"/>
<text x="1078.1" y="882.6" font-family="Liberation Serif" font-size="25.5" text-anchor="start" fill="#1a1a1a" stroke="#1a1a1a" stroke-width="0.35">I</text>
<text x="1117.4" y="882.6" font-family="Liberation Serif" font-size="25.5" text-anchor="start" fill="#1a1a1a" stroke="#1a1a1a" stroke-width="0.35">II</text>
<text x="1185.6" y="882.6" font-family="Liberation Serif" font-size="25.5" text-anchor="start" fill="#1a1a1a" stroke="#1a1a1a" stroke-width="0.35">I</text>
<text x="1265" y="882.6" font-family="Liberation Serif" font-size="25.5" text-anchor="start" fill="#1a1a1a" stroke="#1a1a1a" stroke-width="0.35">II</text>
<line x1="1099.5" y1="880.5" x2="1099.5" y2="908.5" stroke-width="4.2" stroke-linecap="butt"/>
<line x1="1091.4" y1="910.3" x2="1107.6" y2="910.3" stroke-width="4" stroke-linecap="butt"/>
<line x1="1079.9" y1="917.8" x2="1119.1" y2="917.8" stroke-width="4" stroke-linecap="butt"/>
<line x1="1145.7" y1="880.5" x2="1145.7" y2="908.5" stroke-width="4.2" stroke-linecap="butt"/>
<line x1="1126.5" y1="910.3" x2="1165.6" y2="910.3" stroke-width="4" stroke-linecap="butt"/>
<line x1="1137.9" y1="917.8" x2="1153.8" y2="917.8" stroke-width="4" stroke-linecap="butt"/>
<polyline points="1099.5,919.5 1099.5,947.5 1145.7,947.5 1145.7,919.5" stroke-width="4.2" fill="none" stroke-linejoin="miter" stroke-linecap="square"/>
<circle cx="1122.6" cy="947.3" r="5.2" fill="#1a1a1a" stroke="none"/>
<line x1="1205.4" y1="880.5" x2="1205.4" y2="905.2" stroke-width="4.2" stroke-linecap="butt"/>
<path d="M1193.4,905.2 L1217.4,905.2 L1205.4,924.6 Z" stroke-width="3.5" fill="none" stroke-linejoin="miter"/>
<line x1="1190.1" y1="926.7" x2="1220.7" y2="926.7" stroke-width="4" stroke-linecap="butt"/>
<line x1="1184.7" y1="914.6" x2="1198.5" y2="914.6" stroke-width="3.6" stroke-linecap="butt"/>
<line x1="1252.2" y1="880.5" x2="1252.2" y2="905.4" stroke-width="4.2" stroke-linecap="butt"/>
<line x1="1236.9" y1="905.4" x2="1267.5" y2="905.4" stroke-width="4" stroke-linecap="butt"/>
<path d="M1252.2,908.6 L1263.8,927.4 L1240.6,927.4 Z" stroke-width="3.5" fill="none" stroke-linejoin="miter"/>
<line x1="1257.6" y1="916.6" x2="1271.4" y2="916.6" stroke-width="3.6" stroke-linecap="butt"/>
<polyline points="1205.4,928 1205.4,947.5 1252.2,947.5 1252.2,929" stroke-width="4.2" fill="none" stroke-linejoin="miter" stroke-linecap="square"/>
<circle cx="1229.2" cy="947" r="5.2" fill="#1a1a1a" stroke="none"/>
<text x="1280.8" y="915.4" font-family="Liberation Sans" font-size="24.2" text-anchor="start" fill="#1a1a1a" stroke="#1a1a1a" stroke-width="0.35">SCR</text>
<g font-family="Liberation Sans" font-size="25.3" fill="#1a1a1a" stroke="#1a1a1a" stroke-width="0.35" text-anchor="middle">
<text x="352.4" y="1068.5">а) Модульное устройство защиты</text>
<text x="352.3" y="1096.0">от тока утечки с отдельным</text>
<text x="352.4" y="1123.5">сенсорным элементом</text>
<text x="806.0" y="1064.2">b) Модульное устройство защиты</text>
<text x="806.0" y="1091.7">от тока утечки со встроенным</text>
<text x="806.0" y="1119.2">сенсорным элементом</text>
<text x="1247.9" y="1064.2">c) Модульное устройство защиты</text>
<text x="1247.9" y="1091.7">от тока утечки терминального</text>
<text x="1247.9" y="1119.2">типа</text>
</g>
<g font-family="Liberation Sans" font-size="25.2" fill="#1a1a1a" stroke="#1a1a1a" stroke-width="0.35" text-anchor="middle">
<text x="787.1" y="1339.7">Рисунок М.10 — Испытательные цепи для проверки функционирования в случае пульсирующего постоянного</text>
<text x="787.1" y="1369.8">тока утечки, на который накладывается сглаженный постоянный ток 6 мА</text>
</g>
<text x="1457.4" y="2136.2" font-family="Liberation Sans" font-size="25.9" text-anchor="end" fill="#1a1a1a" stroke="#1a1a1a" stroke-width="0.35">153</text>
</svg>
<div class="lg" style="top:1166.5px"><i>S</i> — источник питания; <i class="sr">I</i> — отдельный источник напряжения; <i>V</i> — вольтметр; <i>A</i><sub>1</sub> — амперметр для измерения постоянного</div>
<div class="lg" style="top:1193.1px">тока; <i>A</i><sub>2</sub> — амперметр для измерения действующего значения переменного тока; <i>S</i><sub>1</sub> — многополюсный выключатель; <i>S</i><sub>2</sub> —</div>
<div class="lg" style="top:1219.7px">двухполюсный выключатель; <i>S</i><sub>3</sub> — двойной переключателель; <i>S</i><sub>a</sub> — вспомогательный выключатель; <i>Z</i> — переменное полное</div>
<div class="lg" style="top:1246.3px">сопротивление; <i>T</i> — сенсорный элемент; <i>C</i> — цепь выхода; <i>B</i> — устройство отключения тока; <i>D</i> — прибор индикации изменения</div>
<div class="lg" style="top:1272.9px;text-align:center;text-align-last:center;word-spacing:1.3px">текущего состояния; SCR — тиристор; MRCD — модульное устройство защиты от тока утечки</div>
</body></html>
